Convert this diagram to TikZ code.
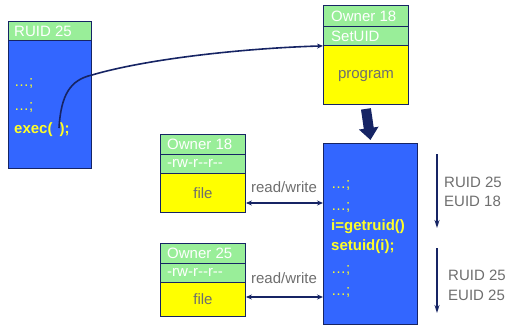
\documentclass[tikz,border=0pt]{standalone}
\usepackage{fontspec}
\setmainfont{Liberation Sans}
\usetikzlibrary{arrows.meta,calc}
\definecolor{navy}{RGB}{22,36,100}
\definecolor{bluef}{RGB}{51,102,255}
\definecolor{greenf}{RGB}{153,238,153}
\definecolor{yelf}{RGB}{255,255,0}
\definecolor{codey}{RGB}{255,255,40}
\definecolor{labg}{RGB}{110,110,110}
\newcommand{\fsz}{\fontsize{15}{18}\selectfont}
\begin{document}
\begin{tikzpicture}[x=1pt,y=-1pt,
  cell/.style={draw=navy, line width=0.9pt, anchor=north west, inner sep=0pt},
  hdr/.style={cell, fill=greenf},
  hdrtxt/.style={anchor=west, inner sep=0pt, text=white, font=\fsz},
  yeltxt/.style={inner sep=0pt, text=labg, font=\fsz},
  code/.style={anchor=west, inner sep=0pt, text=codey, font=\fsz},
  codeb/.style={code, font=\fsz\bfseries},
  lab/.style={anchor=west, inner sep=0pt, text=labg, font=\fsz},
  rw/.style={draw=navy, line width=1.4pt, {Stealth[length=6pt,width=5pt]}-{Stealth[length=6pt,width=5pt]}},
  down/.style={draw=navy, line width=1.4pt, -{Stealth[length=8pt,width=5pt]}}
]
\useasboundingbox (0,0) rectangle (510,326);

% left process
\node[hdr, minimum width=83, minimum height=19] (lhead) at (8,21) {};
\node[hdrtxt] (lheadt) at ($(lhead.west)+(6,0)$) {RUID 25};
\node[cell, fill=bluef, minimum width=83, minimum height=128] (lbody) at (8,40) {};
\node[code] (l1) at (14,83) {…;};
\node[code] (l2) at (14,107) {…;};
\node[codeb] (l3) at (14,130) {exec(\hspace{7pt});};

% program file
\node[hdr, minimum width=85, minimum height=21] (pown) at (323,5) {};
\node[hdrtxt] (pownt) at ($(pown.west)+(8,0)$) {Owner 18};
\node[hdr, minimum width=85, minimum height=19] (psuid) at (323,26) {};
\node[hdrtxt] (psuidt) at ($(psuid.west)+(8,0)$) {SetUID};
\node[cell, fill=yelf, minimum width=85, minimum height=59] (prog) at (323,45) {};
\node[yeltxt] (progt) at ($(prog.center)+(0,1)$) {program};

% running process
\node[cell, fill=bluef, minimum width=94, minimum height=181] (code) at (323,143) {};
\node[code] (c1) at (331,185) {…;};
\node[code] (c2) at (331,207) {…;};
\node[codeb] (c3) at (331,227) {i=getruid()};
\node[codeb] (c4) at (331,247) {setuid(i);};
\node[code] (c5) at (331,270) {…;};
\node[code] (c6) at (331,292) {…;};

% big arrow
\draw[navy, line width=10pt, -{Triangle[length=12pt,width=19pt]}]
  ($(prog.south)+(0,4)$) -- ($(code.north)+(0,-3)$);

% exec curve
\coordinate (execp) at (59,128);
\draw[navy, line width=1.6pt, -{Stealth[length=6pt,width=5pt]}]
  (execp) .. controls (61,95) and (70,80) .. (92,75)
  .. controls (150,58) and (250,48) .. (psuid.south west);

% file 1
\node[hdr, minimum width=85, minimum height=20] (f1own) at (160,134) {};
\node[hdrtxt] (f1ownt) at ($(f1own.west)+(7,0)$) {Owner 18};
\node[hdr, minimum width=85, minimum height=19] (f1perm) at (160,154) {};
\node[hdrtxt] (f1permt) at ($(f1perm.west)+(7,0)$) {{-}rw{-}r{-}{-}r{-}{-}};
\node[cell, fill=yelf, minimum width=85, minimum height=39] (f1) at (160,173) {};
\node[yeltxt] (f1t) at ($(f1.center)+(0,0)$) {file};

% file 2
\node[hdr, minimum width=85, minimum height=20] (f2own) at (160,243) {};
\node[hdrtxt] (f2ownt) at ($(f2own.west)+(7,0)$) {Owner 25};
\node[hdr, minimum width=85, minimum height=19] (f2perm) at (160,263) {};
\node[hdrtxt] (f2permt) at ($(f2perm.west)+(7,0)$) {{-}rw{-}r{-}{-}r{-}{-}};
\node[cell, fill=yelf, minimum width=85, minimum height=34] (f2) at (160,282) {};
\node[yeltxt] (f2t) at ($(f2.center)+(0,0)$) {file};

% read/write
\coordinate (rwy1) at (0,203);
\coordinate (rwy2) at (0,297);
\draw[rw] (f1.east |- rwy1) -- (code.west |- rwy1);
\draw[rw] (f2.east |- rwy2) -- (code.west |- rwy2);
\node[yeltxt] (rw1t) at (284,187) {read/write};
\node[yeltxt] (rw2t) at (284,278) {read/write};

% right side ids
\coordinate (d1s) at (437,154);
\coordinate (d1e) at (437,228);
\coordinate (d2s) at (437,248);
\coordinate (d2e) at (437,313);
\draw[down] (d1s) -- (d1e);
\draw[down] (d2s) -- (d2e);
\node[lab] (r1) at (444,182) {RUID 25};
\node[lab] (e1) at (444,201) {EUID 18};
\node[lab] (r2) at (448,275) {RUID 25};
\node[lab] (e2) at (448,295) {EUID 25};
\end{tikzpicture}
\end{document}
